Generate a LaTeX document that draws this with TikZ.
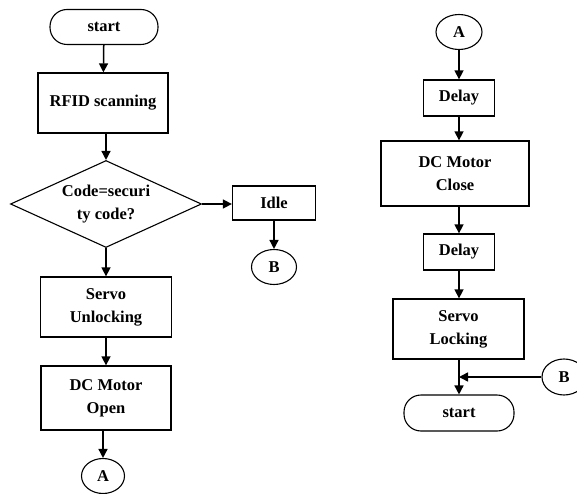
\documentclass[tikz,border=0pt]{standalone}
\usepackage{fontspec}
\setmainfont{Liberation Serif}
\usetikzlibrary{shapes.geometric,arrows.meta}
\begin{document}
\begin{tikzpicture}[x=1pt,y=-1pt,
  every node/.style={font=\fontsize{16.5}{23}\selectfont\bfseries, align=center, inner sep=0pt},
  box/.style={draw, line width=1.3pt, rectangle, minimum width=#1},
  term/.style={draw, line width=1.1pt, rectangle, rounded corners=17pt, minimum width=108pt, minimum height=35pt},
  conn/.style={draw, line width=1.1pt, ellipse, minimum width=45pt, minimum height=35pt},
  dec/.style={draw, line width=1.1pt, diamond, aspect=2.2, minimum width=191pt, minimum height=87pt},
  arr/.style={line width=1.5pt, -{Triangle[length=9pt,width=9pt]}}]
\useasboundingbox (0,0) rectangle (577,494);
% left column
\node[term] (s1) at (104,27) {start};
\node[box=130pt, minimum height=60pt] (rfid) at (103,103) {RFID scanning};
\node[dec] (code) at (106,204) {Code=securi\\ty code?};
\node[box=83pt, minimum height=34pt] (idle) at (274,203) {Idle};
\node[conn] (b1) at (274,267) {B};
\node[box=131pt, minimum height=60pt] (su) at (106,307) {Servo\\Unlocking};
\node[box=130pt, minimum height=64pt] (dco) at (106,398) {DC Motor\\Open};
\node[conn, minimum width=43pt] (a1) at (103,476) {A};
% right column
\node[conn, minimum width=46pt] (a2) at (459,32) {A};
\node[box=71pt, minimum height=36pt] (d1) at (459,98) {Delay};
\node[box=148pt, minimum height=65pt] (dcc) at (455,173.5) {DC Motor\\Close};
\node[box=71pt, minimum height=36pt] (d2) at (459,252) {Delay};
\node[box=131pt, minimum height=60pt] (sl) at (458.5,329) {Servo\\Locking};
\node[term, minimum width=110pt, minimum height=36pt] (s2) at (459,413) {start};
\node[conn, minimum width=44pt, minimum height=36pt] (b2) at (564,377) {B};
\coordinate (m) at (459,377);
% connectors
\draw[arr] (s1) -- (rfid);
\draw[arr] (rfid.south -| code.north) -- (code.north);
\draw[arr] (code.east) -- (code.east -| idle.west);
\draw[arr] (idle) -- (b1);
\draw[arr] (code.south) -- (code.south |- su.north);
\draw[arr] (su) -- (dco);
\draw[arr] (dco.south -| a1.north) -- (a1.north);
\draw[arr] (a2) -- (d1);
\draw[arr] (d1) -- (d1 |- dcc.north);
\draw[arr] (dcc.south -| d2) -- (d2);
\draw[arr] (d2) -- (d2 |- sl.north);
\draw[arr] (sl.south -| s2) -- (s2);
\draw[arr] (b2) -- (m);
\end{tikzpicture}
\end{document}
